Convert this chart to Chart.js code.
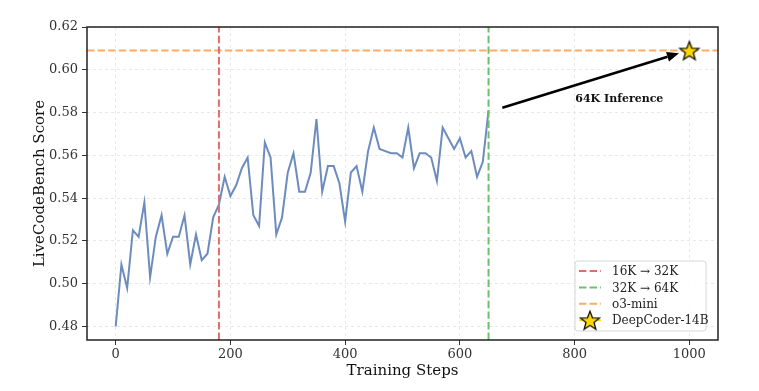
<!DOCTYPE html>
<html>
<head>
<meta charset="utf-8">
<script src="https://cdn.jsdelivr.net/npm/chart.js@4.4.1/dist/chart.umd.min.js"></script>
<style>
  html, body { margin: 0; padding: 0; background: #fff; }
  #wrap { width: 759px; height: 391px; }
</style>
</head>
<body>
<div id="wrap"><canvas id="lcbChart" width="759" height="391"></canvas></div>
<script>
// Training curve (every 10 steps)
const steps = [0, 10, 20, 30, 40, 50, 60, 70, 80, 90, 100, 110, 120, 130, 140, 150, 160, 170, 180, 190,
    200, 210, 220, 230, 240, 250, 260, 270, 280, 290, 300, 310, 320, 330, 340, 350, 360, 370, 380, 390,
    400, 410, 420, 430, 440, 450, 460, 470, 480, 490, 500, 510, 520, 530, 540, 550, 560, 570, 580, 590,
    600, 610, 620, 630, 640, 650];
const scores = [0.480, 0.509, 0.498, 0.525, 0.522, 0.538, 0.503, 0.522, 0.532, 0.514, 0.522, 0.522, 0.532, 0.509, 0.523, 0.511, 0.514, 0.531, 0.537, 0.550,
    0.541, 0.546, 0.554, 0.559, 0.532, 0.527, 0.566, 0.559, 0.523, 0.531, 0.552, 0.561, 0.543, 0.543, 0.552, 0.577, 0.543, 0.555, 0.555, 0.547,
    0.529, 0.552, 0.555, 0.543, 0.562, 0.573, 0.563, 0.562, 0.561, 0.561, 0.559, 0.573, 0.554, 0.561, 0.561, 0.559, 0.548, 0.573, 0.568, 0.563,
    0.568, 0.559, 0.562, 0.550, 0.557, 0.581];

// Context switches and reference points
const switch16to32 = 180;
const switch32to64 = 650;
const o3MiniScore = 0.609;
const deepCoderStep = 1000;
const deepCoderScore = 0.609;

// Axes
const xRange = [-50, 1050];
const yRange = [0.4737, 0.62];
const xTicks = [0, 200, 400, 600, 800, 1000];
const yTicks = [0.48, 0.50, 0.52, 0.54, 0.56, 0.58, 0.60, 0.62];

// Annotation (data coordinates)
const arrowFrom = [674, 0.5823];
const arrowTo = [982, 0.6077];
const noteAt = [878, 0.5865];
const noteText = '64K Inference';

const SERIF = '"DejaVu Serif", "Liberation Serif", serif';

function makeStar(r) {
    const c = document.createElement('canvas');
    const size = Math.ceil(r * 2 + 4);
    c.width = size; c.height = size;
    const g = c.getContext('2d');
    const cx = size / 2, cy = size / 2 + 1;
    g.beginPath();
    for (let i = 0; i < 10; i++) {
        const rad = i % 2 === 0 ? r : r * 0.42;
        const a = -Math.PI / 2 + i * Math.PI / 5;
        const px = cx + rad * Math.cos(a), py = cy + rad * Math.sin(a);
        if (i === 0) g.moveTo(px, py); else g.lineTo(px, py);
    }
    g.closePath();
    g.fillStyle = '#ffd700';
    g.fill();
    g.lineWidth = 1.3;
    g.lineJoin = 'miter';
    g.strokeStyle = '#111';
    g.stroke();
    return c;
}
const starImg = makeStar(10);
const starLegendImg = makeStar(10);

// frame, arrow + note, legend
const decorations = {
    id: 'decorations',
    afterDraw(chart) {
        const { ctx, chartArea: a, scales } = chart;
        const x = scales.x, y = scales.y;
        ctx.save();

        // arrow
        const x0 = x.getPixelForValue(arrowFrom[0]), y0 = y.getPixelForValue(arrowFrom[1]);
        const x1 = x.getPixelForValue(arrowTo[0]), y1 = y.getPixelForValue(arrowTo[1]);
        const ang = Math.atan2(y1 - y0, x1 - x0);
        const headLen = 12, headW = 5;
        const bx = x1 - headLen * Math.cos(ang), by = y1 - headLen * Math.sin(ang);
        ctx.strokeStyle = '#000';
        ctx.lineWidth = 2.6;
        ctx.beginPath();
        ctx.moveTo(x0, y0);
        ctx.lineTo(bx, by);
        ctx.stroke();
        ctx.fillStyle = '#000';
        ctx.beginPath();
        ctx.moveTo(x1, y1);
        ctx.lineTo(bx + headW * Math.sin(ang), by - headW * Math.cos(ang));
        ctx.lineTo(bx - headW * Math.sin(ang), by + headW * Math.cos(ang));
        ctx.closePath();
        ctx.fill();

        // note
        ctx.font = 'bold 11px ' + SERIF;
        ctx.textAlign = 'center';
        ctx.textBaseline = 'middle';
        ctx.fillStyle = '#111';
        ctx.fillText(noteText, x.getPixelForValue(noteAt[0]), y.getPixelForValue(noteAt[1]));

        // frame
        ctx.strokeStyle = '#222';
        ctx.lineWidth = 1.5;
        ctx.strokeRect(a.left, a.top, a.right - a.left, a.bottom - a.top);

        // legend
        const items = chart.data.datasets.filter(d => d.label);
        const lx = a.right - 143, ly = a.bottom - 79, lw = 131, lh = 70;
        ctx.beginPath();
        ctx.roundRect(lx, ly, lw, lh, 3);
        ctx.fillStyle = 'rgba(255,255,255,0.85)';
        ctx.fill();
        ctx.strokeStyle = '#d8d8d8';
        ctx.lineWidth = 1;
        ctx.stroke();
        ctx.font = '12px ' + SERIF;
        ctx.textAlign = 'left';
        ctx.textBaseline = 'middle';
        items.forEach((d, i) => {
            const cy = ly + 10 + i * 16.4;
            if (d.pointStyle === 'line') {
                ctx.strokeStyle = d.borderColor;
                ctx.lineWidth = 2;
                ctx.setLineDash(d.borderDash);
                ctx.beginPath();
                ctx.moveTo(lx + 4, cy);
                ctx.lineTo(lx + 26, cy);
                ctx.stroke();
                ctx.setLineDash([]);
            } else {
                ctx.strokeStyle = '#ffd700';
                ctx.lineWidth = 1.5;
                ctx.beginPath();
                ctx.moveTo(lx + 4, cy);
                ctx.lineTo(lx + 26, cy);
                ctx.stroke();
                ctx.drawImage(starLegendImg, lx + 15 - starLegendImg.width / 2, cy - starLegendImg.height / 2);
            }
            ctx.fillStyle = '#222';
            ctx.fillText(d.label, lx + 37, cy + 1);
        });
        ctx.restore();
    }
};

const dash = [7.4, 3.2];
const gridOpts = { color: '#e8e8e8', tickColor: '#333', tickLength: 5, tickBorderDash: [], tickWidth: 1 };
const borderOpts = { display: false, dash: [3, 3] };
const ctx = document.getElementById('lcbChart').getContext('2d');
new Chart(ctx, {
    type: 'line',
    data: {
        datasets: [
            {
                data: steps.map((s, i) => ({ x: s, y: scores[i] })),
                borderColor: 'rgba(76,114,176,0.82)',
                borderWidth: 2,
                pointRadius: 0,
                tension: 0,
                order: 5
            },
            {
                label: '16K \u2192 32K',
                data: [{ x: switch16to32, y: yRange[0] }, { x: switch16to32, y: yRange[1] }],
                borderColor: '#e46b6b',
                borderWidth: 2,
                borderDash: dash,
                pointRadius: 0,
                pointStyle: 'line',
                order: 2
            },
            {
                label: '32K \u2192 64K',
                data: [{ x: switch32to64, y: yRange[0] }, { x: switch32to64, y: yRange[1] }],
                borderColor: '#6cbf6c',
                borderWidth: 2,
                borderDash: dash,
                pointRadius: 0,
                pointStyle: 'line',
                order: 2
            },
            {
                label: 'o3-mini',
                data: [{ x: xRange[0], y: o3MiniScore }, { x: xRange[1], y: o3MiniScore }],
                borderColor: '#ffab62',
                borderWidth: 2,
                borderDash: dash,
                pointRadius: 0,
                pointStyle: 'line',
                order: 3
            },
            {
                label: 'DeepCoder-14B',
                data: [{ x: deepCoderStep, y: deepCoderScore }],
                showLine: false,
                pointStyle: starImg,
                pointRadius: 10,
                order: 1
            }
        ]
    },
    options: {
        responsive: false,
        animation: false,
        devicePixelRatio: 1,
        layout: { padding: { top: 27, right: 41, bottom: 0, left: 0 } },
        plugins: {
            legend: { display: false },
            tooltip: { enabled: false }
        },
        scales: {
            x: {
                type: 'linear',
                min: xRange[0],
                max: xRange[1],
                afterBuildTicks: s => { s.ticks = xTicks.map(v => ({ value: v })); },
                afterFit: s => { s.height = 51; },
                grid: gridOpts,
                border: borderOpts,
                ticks: { color: '#333', font: { family: SERIF, size: 13 }, padding: 2, maxRotation: 0, callback: v => String(v) },
                title: { display: true, text: 'Training Steps', color: '#111', font: { family: SERIF, size: 15 }, padding: { top: 0, bottom: 11 } }
            },
            y: {
                min: yRange[0],
                max: yRange[1],
                afterBuildTicks: s => { s.ticks = yTicks.map(v => ({ value: v })); },
                afterFit: s => { s.width = 87; },
                grid: gridOpts,
                border: borderOpts,
                ticks: { color: '#333', font: { family: SERIF, size: 13 }, padding: 4, callback: v => v.toFixed(2) },
                title: { display: true, text: 'LiveCodeBench Score', color: '#111', font: { family: SERIF, size: 15 }, padding: { top: 31, bottom: 0 } }
            }
        }
    },
    plugins: [decorations]
});
</script>
</body>
</html>
